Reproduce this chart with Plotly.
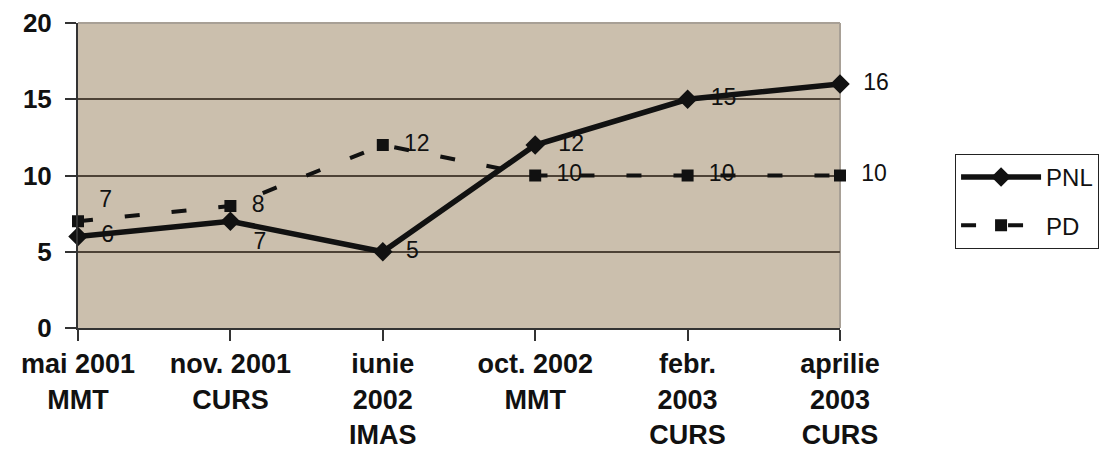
import plotly.graph_objects as go

categories = ["mai 2001<br>MMT", "nov. 2001<br>CURS", "iunie<br>2002<br>IMAS",
              "oct. 2002<br>MMT", "febr.<br>2003<br>CURS", "aprilie<br>2003<br>CURS"]
pnl = [6, 7, 5, 12, 15, 16]
pd_vals = [7, 8, 12, 10, 10, 10]
y_ticks = [0, 5, 10, 15, 20]

FONT = "Liberation Sans, Arial, sans-serif"

fig = go.Figure()
fig.add_trace(go.Scatter(
    x=categories, y=pd_vals, name="PD", mode="lines+markers+text",
    line=dict(color="#111111", width=4, dash="15px,32px"),
    marker=dict(symbol="square", size=12, color="#111111"),
    text=[str(v) for v in pd_vals], texttemplate="  %{text}",
    textposition=["top right", "middle right", "middle right",
                  "middle right", "middle right", "middle right"],
    textfont=dict(family=FONT, size=23, color="#111111"),
    cliponaxis=False, legendgroup="b", legendrank=2,
))
fig.add_trace(go.Scatter(
    x=categories, y=pnl, name="PNL", mode="lines+markers+text",
    line=dict(color="#111111", width=5.5),
    marker=dict(symbol="diamond", size=15, color="#111111"),
    text=[str(v) for v in pnl], texttemplate="  %{text}",
    textposition=["middle right", "bottom right", "middle right",
                  "middle right", "middle right", "middle right"],
    textfont=dict(family=FONT, size=23, color="#111111"),
    cliponaxis=False, legendgroup="a", legendrank=1,
))

fig.update_layout(
    width=1106, height=459,
    margin=dict(l=70, r=274, t=15, b=139, autoexpand=False),
    paper_bgcolor="white", plot_bgcolor="#cbbfad",
    showlegend=True,
    legend=dict(x=1.151, y=0.571, xanchor="left", yanchor="top",
                bordercolor="#222222", borderwidth=1, bgcolor="white",
                font=dict(family=FONT, size=24, color="#111111"),
                itemwidth=80,
                tracegroupgap=14, traceorder="grouped"),
    xaxis=dict(type="category", range=[0, 5], showgrid=False, automargin=False,
               showline=True, linecolor="#333333", linewidth=2,
               ticks="outside", ticklen=11, tickwidth=2, tickcolor="#333333",
               tickfont=dict(family=FONT, size=27, color="#111111", weight="bold"),
               zeroline=False),
    yaxis=dict(range=[0, 20], tickvals=y_ticks, showgrid=True, automargin=False,
               gridcolor="#4d4236", gridwidth=2,
               showline=True, linecolor="#333333", linewidth=2,
               ticks="outside", ticklen=11, tickwidth=2, tickcolor="#333333",
               ticklabelstandoff=8, ticklabeloverflow="allow",
               tickfont=dict(family=FONT, size=26, color="#111111", weight="bold"),
               zeroline=False),
    shapes=[dict(type="line", xref="paper", yref="paper", x0=0, x1=1, y0=1, y1=1,
                 line=dict(color="#a8a096", width=2), layer="above"),
            dict(type="line", xref="paper", yref="paper", x0=1, x1=1, y0=0, y1=1,
                 line=dict(color="#a8a096", width=2), layer="below")],
)

fig.write_html("out.html")
